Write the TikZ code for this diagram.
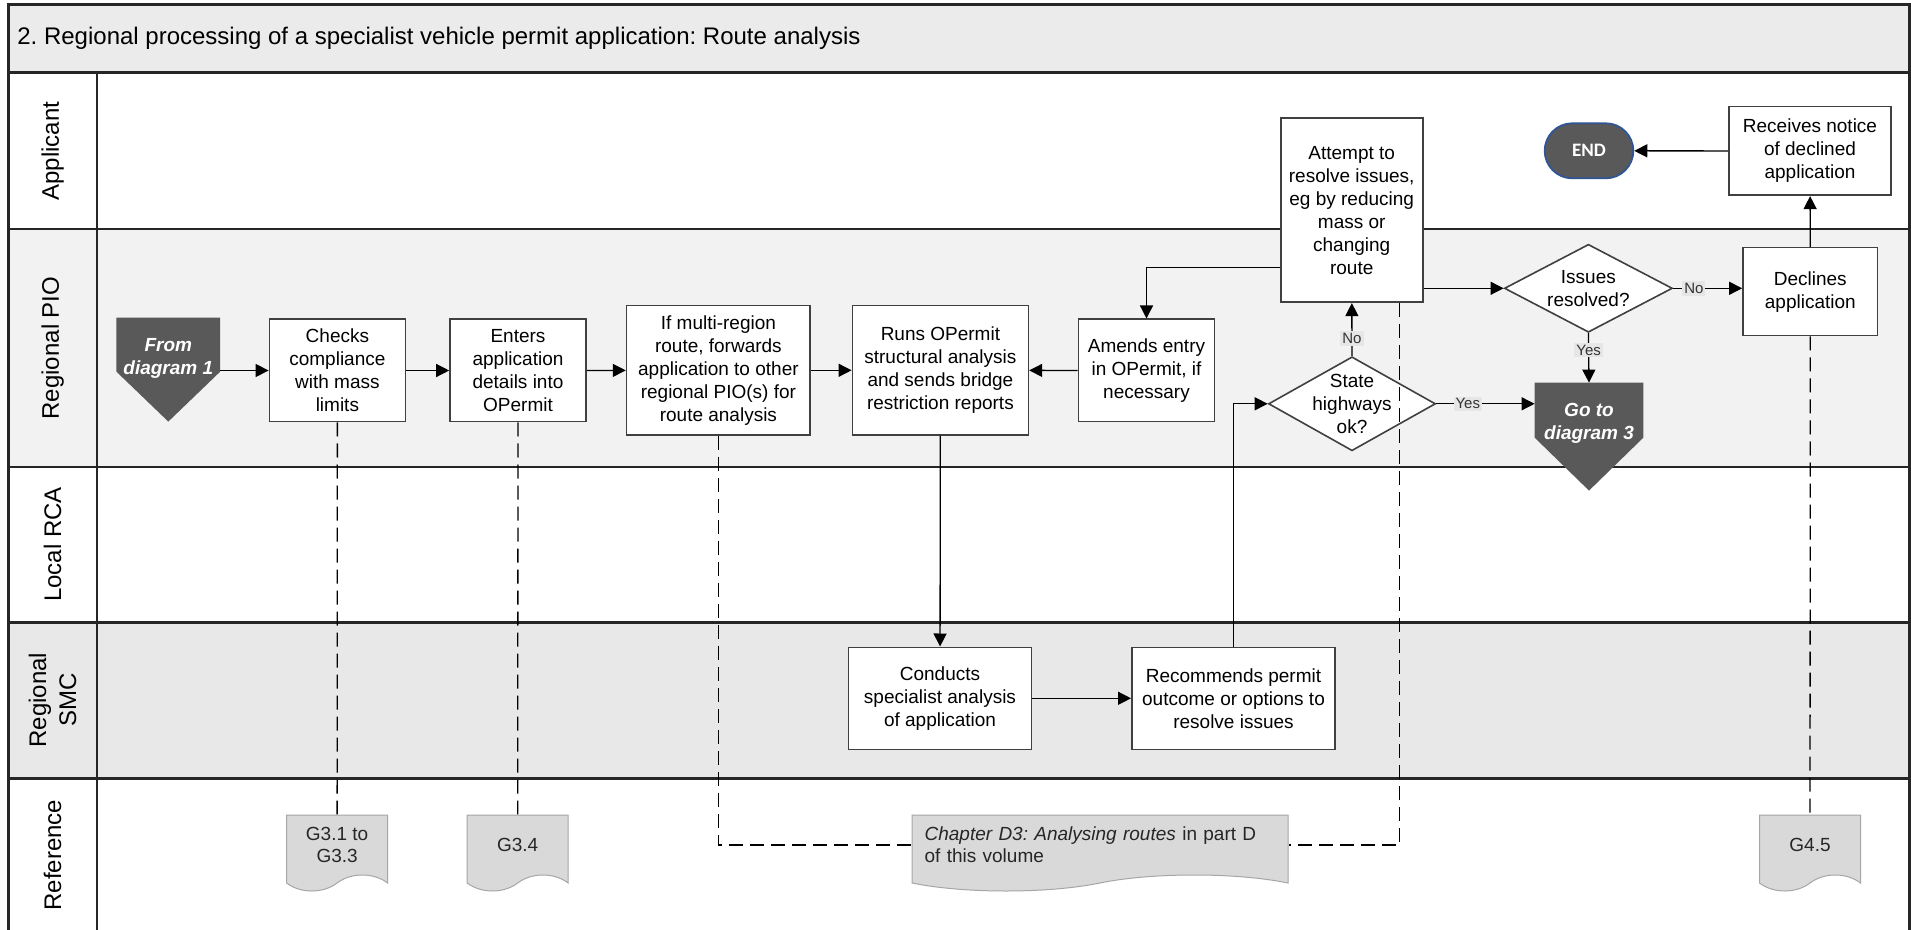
\documentclass[tikz,border=0pt]{standalone}
\usepackage{fontspec}
\setmainfont{Liberation Sans}
\newfontfamily\endfont{Carlito}
\usepackage{xcolor}
\definecolor{titlebg}{HTML}{EBEBEB}
\definecolor{piobg}{HTML}{F2F2F2}
\definecolor{smcbg}{HTML}{E8E8E8}
\definecolor{laneline}{HTML}{262626}
\definecolor{boxline}{HTML}{404040}
\definecolor{offgray}{HTML}{595959}
\definecolor{endline}{HTML}{2F5597}
\definecolor{docfill}{HTML}{D9D9D9}
\definecolor{docline}{HTML}{A6A6A6}
\definecolor{lblbg}{HTML}{E6E6E6}
\definecolor{doctext}{HTML}{262626}
\usepackage{tikz}
\usetikzlibrary{calc,positioning,arrows.meta,shapes.geometric,shapes.misc,shapes.symbols}
\pgfdeclarelayer{lanes}
\pgfdeclarelayer{shapes}
\pgfsetlayers{lanes,shapes,main}
\frenchspacing

\begin{document}
\begin{tikzpicture}[x=0.5pt,y=-0.5pt,
  lanelbl/.style={rotate=90,font=\fontsize{12}{15}\selectfont,align=center},
  pbox/.style={draw=boxline,fill=white,line width=0.8pt,align=center,inner sep=0pt,
               font=\fontsize{9.5}{11.5}\selectfont},
  decision/.style={diamond,draw=boxline,fill=white,line width=0.8pt,align=center,
               inner sep=-8pt,font=\fontsize{9.5}{11.5}\selectfont},
  offpage/.style={text=white,align=center,minimum width=#1,minimum height=40pt,
               font=\fontsize{9.5}{11.5}\selectfont\bfseries\itshape},
  doc/.style={tape,tape bend top=none,tape bend bottom=in and out,tape bend height=8pt,
               fill=docfill,draw=docline,line width=0.5pt,text=doctext,
               minimum height=38pt,font=\fontsize{9.5}{11}\selectfont,align=center},
  endterm/.style={rounded rectangle,fill=offgray,draw=endline,line width=0.9pt,text=white,
               font=\endfont\bfseries\fontsize{9.5}{11}\selectfont,
               minimum width=51pt,minimum height=27.5pt},
  arr/.style={-{Triangle[length=6.5pt,width=6.5pt]},line width=0.65pt},
  refline/.style={dash pattern=on 7pt off 3.5pt,line width=0.65pt},
  yn/.style={fill=lblbg,font=\fontsize{7.5}{8}\selectfont,inner sep=1pt,text=black!80}
]
\useasboundingbox (0,0) rectangle (1911,930);

\begin{pgfonlayer}{lanes}
  \fill[white] (0,0) rectangle (1911,930);
  \fill[titlebg] (8.6,4.7) rectangle (1909.5,72.7);
  \fill[piobg] (8.6,229.3) rectangle (1909.5,466.7);
  \fill[smcbg] (8.6,622.3) rectangle (1909.5,778.3);
  \draw[laneline,line width=1.2pt] (8.6,935) |- (1909.5,4.7) -- (1909.5,935);
  \draw[laneline,line width=1.2pt] (8.6,72.7) -- (1909.5,72.7)
    (8.6,229.3) -- (1909.5,229.3) (8.6,466.7) -- (1909.5,466.7)
    (8.6,622.3) -- (1909.5,622.3) (8.6,778.3) -- (1909.5,778.3);
  \draw[laneline,line width=0.8pt] (96.7,72.7) -- (96.7,935);
\end{pgfonlayer}

\node[anchor=west,inner sep=0pt,font=\fontsize{12}{14}\selectfont] (title) at (17,38.5)
  {2. Regional processing of a specialist vehicle permit application: Route analysis};

\node[lanelbl] (lapp) at (52.6,151) {Applicant};
\node[lanelbl] (lpio) at (52.6,348) {Regional PIO};
\node[lanelbl] (lrca) at (52.6,544.5) {Local RCA};
\node[lanelbl] (lsmc) at (52.6,700.3) {Regional\\SMC};
\node[lanelbl] (lref) at (52.6,855) {Reference};

\node[offpage=51pt] (from1) at (168.3,358) {From\\diagram 1};
\node[pbox,minimum width=68pt,minimum height=51.2pt] (checks) at (337.4,370.5)
  {Checks\\compliance\\with mass\\limits};
\node[pbox,minimum width=68pt,minimum height=51.2pt] (enters) at (518,370.5)
  {Enters\\application\\details into\\OPermit};
\node[pbox,minimum width=91.85pt,minimum height=64.65pt] (multi) at (718.4,370.3)
  {If multi-region\\route, forwards\\application to other\\regional PIO(s) for\\route analysis};
\node[pbox,minimum width=88pt,minimum height=64.65pt] (runs) at (940.4,370.3)
  {Runs OPermit\\structural analysis\\and sends bridge\\restriction reports};
\node[pbox,minimum width=68pt,minimum height=51.2pt] (amends) at (1146.5,370.5)
  {Amends entry\\in OPermit, if\\necessary};
\node[pbox,minimum width=71pt,minimum height=92pt] (attempt) at (1351.7,210.3)
  {Attempt to\\resolve issues,\\eg by reducing\\mass or\\changing\\route};
\node[decision,minimum width=83.5pt,minimum height=47pt] (state) at (1352,403.8)
  {State\\highways\\ok?};
\node[decision,minimum width=84pt,minimum height=44pt] (issues) at (1588.4,288.3)
  {Issues\\resolved?};
\node[offpage=54pt] (goto3) at (1589,423) {Go to\\diagram 3};
\node[pbox,minimum width=67.35pt,minimum height=44pt] (declines) at (1810.3,291.7)
  {Declines\\application};
\node[pbox,minimum width=81.15pt,minimum height=44.3pt] (receives) at (1810,151)
  {Receives notice\\of declined\\application};
\node[endterm] (end) at (1589,150.8) {END};
\node[pbox,minimum width=91.35pt,minimum height=51pt] (conducts) at (940,698.3)
  {Conducts\\specialist analysis\\of application};
\node[pbox,minimum width=101.65pt,minimum height=51pt] (recommends) at (1233.5,698.3)
  {Recommends permit\\outcome or options to\\resolve issues};

\node[doc,minimum width=50.5pt] (g31) at (337.1,845) {G3.1 to\\G3.3};
\node[doc,minimum width=50.5pt] (g34) at (517.7,845) {G3.4};
\node[doc,minimum width=188pt,inner xsep=6.3pt,text width=175.4pt,align=left] (d3) at (1100,845)
  {{\itshape Chapter D3: Analysing routes} in part D\\of this volume};
\node[doc,minimum width=50.5pt] (g45) at (1810,845) {G4.5};

\begin{pgfonlayer}{shapes}
  \fill[offgray] (from1.north west) -- (from1.north east) -- ++(0,54)
    -- ($(from1.north)+(0,104)$) -- ($(from1.north west)+(0,54)$) -- cycle;
  \fill[offgray] (goto3.north west) -- (goto3.north east) -- ++(0,55)
    -- ($(goto3.north)+(0,108)$) -- ($(goto3.north west)+(0,55)$) -- cycle;
\end{pgfonlayer}

\draw[arr] (from1.east |- checks) -- (checks);
\draw[arr] (checks) -- (enters);
\draw[arr] (enters) -- (multi);
\draw[arr] (multi) -- (runs);
\draw[arr] (amends) -- (runs);
\draw[arr] ($(attempt.west)+(0,57)$) -| (amends.north);
\draw[arr] (runs) -- (conducts);
\draw[arr] (conducts) -- (recommends);
\draw[arr] (recommends.north) |- (state.west);
\draw[arr] (state) -- node[yn,pos=0.33] {No} (attempt);
\draw[arr] (state.east) -- node[yn,pos=0.32] {Yes} (state.east -| goto3.west);
\draw[arr] (attempt.east |- issues.west) -- (issues.west);
\draw[arr] (issues.east) -- node[yn,pos=0.3] {No} (issues.east -| declines.west);
\draw[arr] (issues.south) -- node[yn,pos=0.34] {Yes} (goto3.north);
\draw[arr] (declines) -- (receives);
\draw[arr] (receives) -- (end);

\draw[refline] (checks) -- (g31);
\draw[refline] (enters) -- (g34);
\draw[refline] (multi.south) |- (d3.west);
\draw[refline] ($(attempt.south)+(48,0)$) |- (d3.east);
\draw[refline] (declines) -- (g45);
\end{tikzpicture}
\end{document}
